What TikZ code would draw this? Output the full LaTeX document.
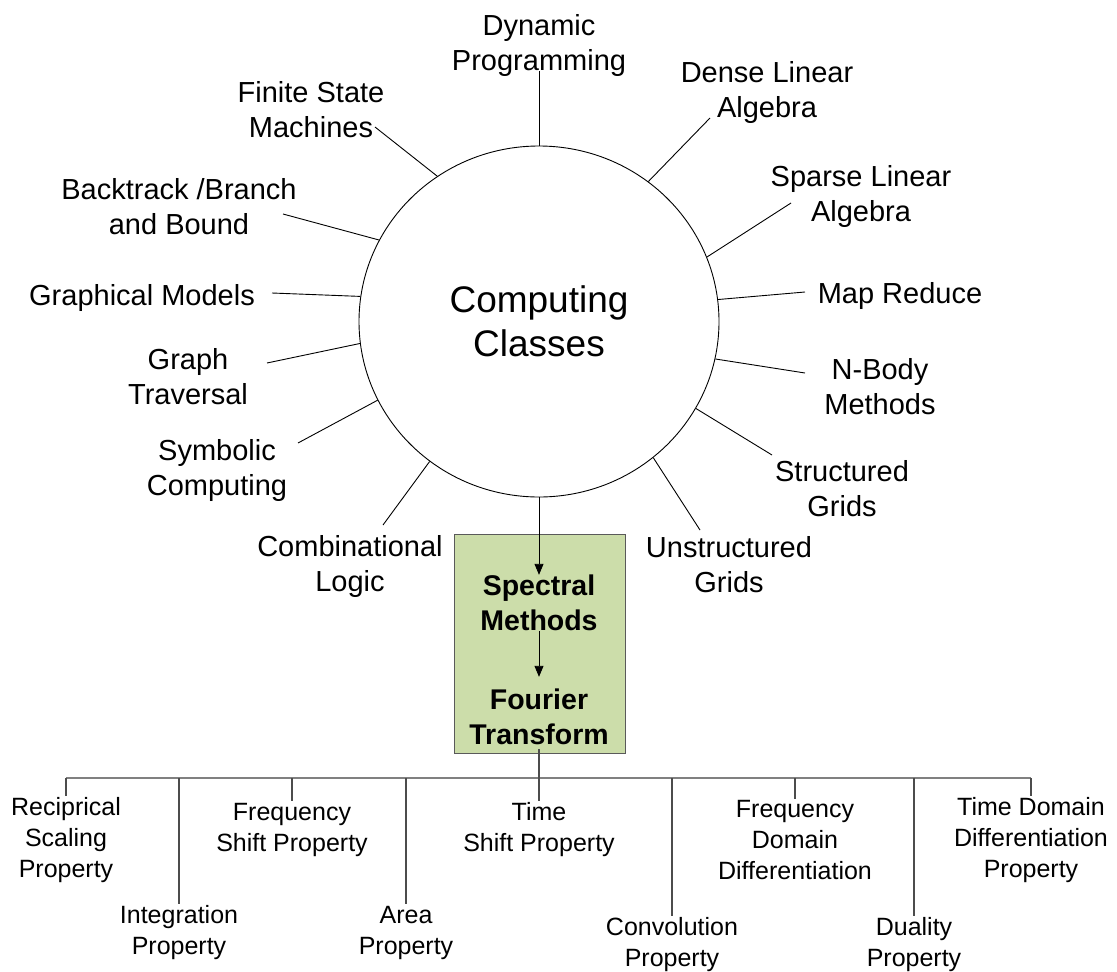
\documentclass[tikz,border=0pt]{standalone}
\usepackage{fontspec}
\setmainfont{Liberation Sans}
\usetikzlibrary{shapes.geometric,arrows.meta}
\definecolor{boxfill}{RGB}{204,221,170}
\definecolor{boxline}{RGB}{90,90,90}
\begin{document}
\begin{tikzpicture}[x=1pt,y=-1pt,
  cls/.style={font=\fontsize{29}{35}\selectfont, align=center, inner sep=0pt},
  prop/.style={font=\fontsize{25}{31}\selectfont, align=center, inner xsep=0pt, inner ysep=2pt},
  method/.style={font=\fontsize{28.5}{35}\selectfont\bfseries, align=center, inner sep=0pt},
  spoke/.style={draw=black, line width=0.9pt},
  flow/.style={draw=black, line width=0.9pt, -{Triangle[length=11pt,width=9pt]}},
  busline/.style={draw=black!50, line width=1.5pt},
  drop/.style={draw=black!70, line width=1.1pt}]
\useasboundingbox (0,0) rectangle (1117,972);

% central class circle
\node[draw, ellipse, minimum width=360pt, minimum height=351pt, inner sep=0pt,
      line width=0.9pt, font=\fontsize{37}{44}\selectfont, align=center]
      (cc) at (539,321.5) {Computing\\Classes};

% the thirteen computing classes around it
\node[cls] (dp)  at (539,45.5)  {Dynamic\\Programming};
\node[cls] (dla) at (767,93)    {Dense Linear\\Algebra};
\node[cls] (sla) at (861,196)   {Sparse Linear\\Algebra};
\node[cls] (mr)  at (900,296)   {Map Reduce};
\node[cls] (nb)  at (880,386.5) {N-Body\\Methods};
\node[cls] (sg)  at (842,488.5) {Structured\\Grids};
\node[cls] (ug)  at (729,564.5) {Unstructured\\Grids};
\node[cls] (cl)  at (350,566.5) {Combinational\\Logic};
\node[cls] (sc)  at (217,470.5) {Symbolic\\Computing};
\node[cls] (gt)  at (188,376.5) {Graph\\Traversal};
\node[cls] (gm)  at (142,298)   {Graphical Models};
\node[cls] (bb)  at (179,207)   {Backtrack /Branch\\and Bound};
\node[cls] (fsm) at (311,109.5) {Finite State\\Machines};

% outer ends of the spokes, next to each label
\coordinate (pdp)  at (539,71);
\coordinate (pdla) at (710,118);
\coordinate (psla) at (791,203);
\coordinate (pmr)  at (805,292);
\coordinate (pnb)  at (805,373);
\coordinate (psg)  at (772,455);
\coordinate (pug)  at (700,530);
\coordinate (pcl)  at (383,525);
\coordinate (psc)  at (298,443);
\coordinate (pgt)  at (267,363);
\coordinate (pgm)  at (272,293);
\coordinate (pbb)  at (283,214);
\coordinate (pfsm) at (375,127);

\draw[spoke] (pdp)  -- (cc.90);
\draw[spoke] (pdla) -- (cc.52.5);
\draw[spoke] (psla) -- (cc.21.6);
\draw[spoke] (pmr)  -- (cc.7.4);
\draw[spoke] (pnb)  -- (cc.-12.3);
\draw[spoke] (psg)  -- (cc.-29.1);
\draw[spoke] (pug)  -- (cc.-50.3);
\draw[spoke] (pcl)  -- (cc.232.9);
\draw[spoke] (psc)  -- (cc.206.9);
\draw[spoke] (pgt)  -- (cc.187.5);
\draw[spoke] (pgm)  -- (cc.172.5);
\draw[spoke] (pbb)  -- (cc.153.7);
\draw[spoke] (pfsm) -- (cc.125);

% highlighted spectral methods panel
\node[draw=boxline, fill=boxfill, line width=0.9pt, minimum width=171pt,
      minimum height=219pt, inner sep=0pt] (panel) at (539.5,643.5) {};
\node[method] (sm) at (539,603) {Spectral\\Methods};
\node[method] (ft) at (539,717) {Fourier\\Transform};

\draw[flow] (cc.south) -- (sm.north);
\draw[flow] (sm.south) -- ([yshift=12pt]ft.north);

% Fourier transform properties
\node[prop] (rsp) at (66,840.5)  {Reciprical\\Scaling\\Property};
\node[prop] (ip)  at (179,933)   {Integration\\Property};
\node[prop] (fsp) at (292,830)   {Frequency\\Shift Property};
\node[prop] (ap)  at (406,933)   {Area\\Property};
\node[prop] (tsp) at (539,830)   {Time\\Shift Property};
\node[prop] (cp)  at (672,945)   {Convolution\\Property};
\node[prop] (fdd) at (795,840.5) {Frequency\\Domain\\Differentiation};
\node[prop] (dup) at (914,945)   {Duality\\Property};
\node[prop] (tdd) at (1031,840.5){Time Domain\\Differentiation\\Property};

\coordinate (bus) at (539,778);
\draw[busline] (rsp.north |- bus) -- (tdd.north |- bus);
\foreach \p in {rsp,ip,fsp,ap,cp,fdd,dup,tdd}
  \draw[drop] (\p.north |- bus) -- (\p.north);
\draw[drop] ([yshift=-4pt]ft.south) -- (tsp.north);
\end{tikzpicture}
\end{document}
